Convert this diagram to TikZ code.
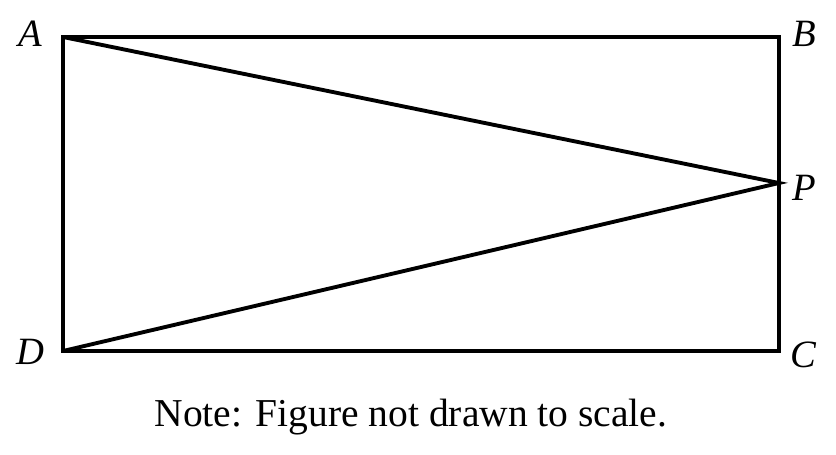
\documentclass[tikz,border=0pt]{standalone}
\usepackage{fontspec}
\setmainfont{Liberation Serif}
\usetikzlibrary{positioning}

\begin{document}
\begin{tikzpicture}[x=0.02cm,y=0.02cm,
	Edge/.style={-,black,line width=2.2pt,line join=miter},
	Label/.style={font=\fontsize{22}{26}\selectfont\itshape,inner sep=0pt},
	Note/.style={font=\fontsize{22.5}{27}\selectfont,inner sep=0pt},
]
	\useasboundingbox (0,0) rectangle (836,454);
	\coordinate (A) at (63,417);
	\coordinate (B) at (779,417);
	\coordinate (P) at (779,271);
	\coordinate (C) at (779,103);
	\coordinate (D) at (63,103);

	\node[Label] (LA) at (30,420){A};
	\node[Label] (LB) at (804,420){B};
	\node[Label] (LP) at (804,266){P};
	\node[Label] (LC) at (803,99){C};
	\node[Label] (LD) at (30,102){D};
	\node[Note] (N) at (411,37){Note: Figure not drawn to scale.};

	\draw[Edge] (A) -- (B) -- (C) -- (D) -- cycle;
	\draw[Edge] (A) -- (P) -- (D);
\end{tikzpicture}
\end{document}
